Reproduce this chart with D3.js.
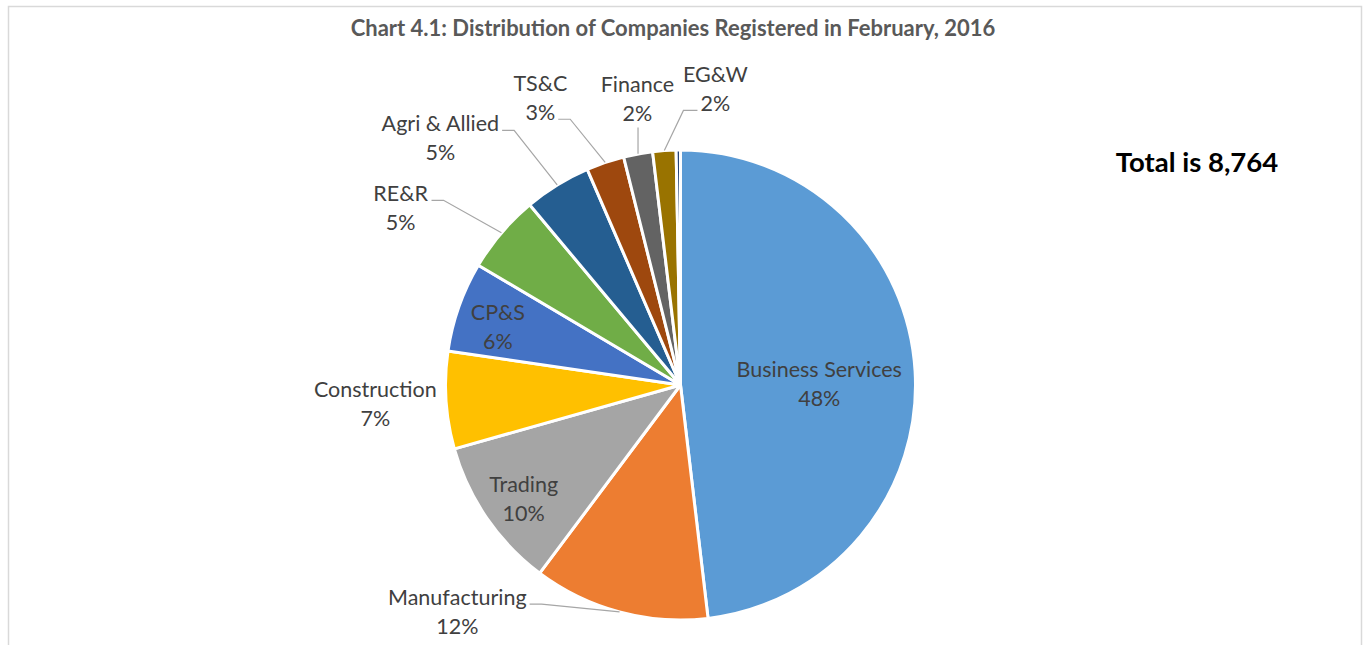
<!DOCTYPE html>
<html lang="en">
<head>
    <meta charset="UTF-8">
    <title>Chart 4.1</title>
    <script src="https://d3js.org/d3.v7.min.js"></script>
    <style>
        body {
            margin: 0;
            background: #fff;
        }
        text {
            font-family: Lato, "Open Sans", sans-serif;
        }
        .lbl {
            fill: #404040;
            font-size: 21.5px;
        }
        .leader {
            fill: none;
            stroke: #a6a6a6;
            stroke-width: 1.2;
        }
    </style>
</head>
<body>
    <svg width="1364" height="645"></svg>

    <script>
        // data (companies, total 8,764)
        const categories = ['Business Services', 'Manufacturing', 'Trading', 'Construction', 'CP&S',
            'RE&R', 'Agri & Allied', 'TS&C', 'Finance', 'EG&W', 'Others'];
        const counts = [4218, 1060, 911, 587, 543, 473, 403, 228, 175, 140, 26];
        const colors = ['#5b9bd5', '#ed7d31', '#a5a5a5', '#ffc000', '#4472c4',
            '#70ad47', '#255e91', '#9e480e', '#636363', '#997300', '#264478'];
        const title = 'Chart 4.1: Distribution of Companies Registered in February, 2016';
        const totalText = 'Total is 8,764';

        // label placement: radius factor, nudge, leader style
        const labelLayout = [
            {k: 0.6, dx: -2, dy: 7, leader: null},
            {k: 1.25, dx: -147, dy: -57, leader: 'right0'},
            {k: 0.82, dx: 2, dy: 4, leader: null},
            {k: 1.25, dx: -12, dy: -1, leader: null},
            {k: 0.82, dx: -1, dy: 6, leader: null},
            {k: 1.25, dx: -56, dy: 13, leader: 'right0'},
            {k: 1.25, dx: -86, dy: 3, leader: 'right0'},
            {k: 1.25, dx: -46, dy: -9, leader: 'right1'},
            {k: 1.25, dx: 10, dy: 2, leader: 'bottom'},
            {k: 1.25, dx: 55, dy: -3, leader: 'left1'},
            null
        ];

        const svg = d3.select('svg');
        const cx = 680.5, cy = 385, R = 235;
        const total = d3.sum(counts);
        const lineGap = 29;

        // outer frame
        svg.append('rect')
            .attr('x', 8.5).attr('y', 6.5)
            .attr('width', 1353).attr('height', 700)
            .attr('fill', 'none').attr('stroke', '#d9d9d9').attr('stroke-width', 1.5);

        svg.append('text')
            .attr('x', 673).attr('y', 36)
            .attr('text-anchor', 'middle')
            .style('font-size', '22px').style('font-weight', 'bold').style('fill', '#595959')
            .text(title);

        svg.append('text')
            .attr('x', 1197).attr('y', 172)
            .attr('text-anchor', 'middle')
            .style('font-size', '27.5px').style('font-weight', 'bold').style('fill', '#000')
            .text(totalText);

        const rows = categories.map((c, i) => ({name: c, value: counts[i], color: colors[i], layout: labelLayout[i]}));

        const pie = d3.pie().sort(null).value(d => d.value);
        const arcs = pie(rows);
        const arc = d3.arc().innerRadius(0).outerRadius(R);

        const g = svg.append('g').attr('transform', 'translate(' + cx + ',' + cy + ')');

        g.selectAll('path.slice').data(arcs).enter().append('path')
            .attr('class', 'slice')
            .attr('d', arc)
            .attr('fill', d => d.data.color)
            .attr('stroke', '#fff')
            .attr('stroke-width', 3)
            .attr('stroke-linejoin', 'round');

        function polar(a, r) {
            return [r * Math.sin(a), -r * Math.cos(a)];
        }

        arcs.forEach(d => {
            const L = d.data.layout;
            if (!L) return;
            const mid = (d.startAngle + d.endAngle) / 2;
            const p = polar(mid, L.k * R);
            const x = p[0] + L.dx, y = p[1] + L.dy;
            const pct = Math.round(d.data.value / total * 100) + '%';

            const lg = g.append('g');
            const t0 = lg.append('text').attr('class', 'lbl')
                .attr('x', x).attr('y', y - lineGap / 2)
                .attr('text-anchor', 'middle').attr('dominant-baseline', 'central')
                .text(d.data.name);
            const t1 = lg.append('text').attr('class', 'lbl')
                .attr('x', x).attr('y', y + lineGap / 2)
                .attr('text-anchor', 'middle').attr('dominant-baseline', 'central')
                .text(pct);

            if (!L.leader) return;
            const edge = polar(mid, R);
            let start, elbow;
            if (L.leader === 'bottom') {
                const b = lg.node().getBBox();
                start = [edge[0], b.y + b.height + 2];
                elbow = start;
            } else {
                const t = L.leader.endsWith('0') ? t0 : t1;
                const b = t.node().getBBox();
                const ly = (L.leader.endsWith('0') ? y - lineGap / 2 : y + lineGap / 2) + 7;
                if (L.leader.startsWith('right')) {
                    start = [b.x + b.width + 3, ly];
                    elbow = [start[0] + 12, ly];
                } else {
                    start = [b.x - 3, ly];
                    elbow = [start[0] - 14, ly];
                }
            }
            g.append('path').attr('class', 'leader')
                .attr('d', d3.line()([start, elbow, edge]));
        });
    </script>
</body>
</html>
